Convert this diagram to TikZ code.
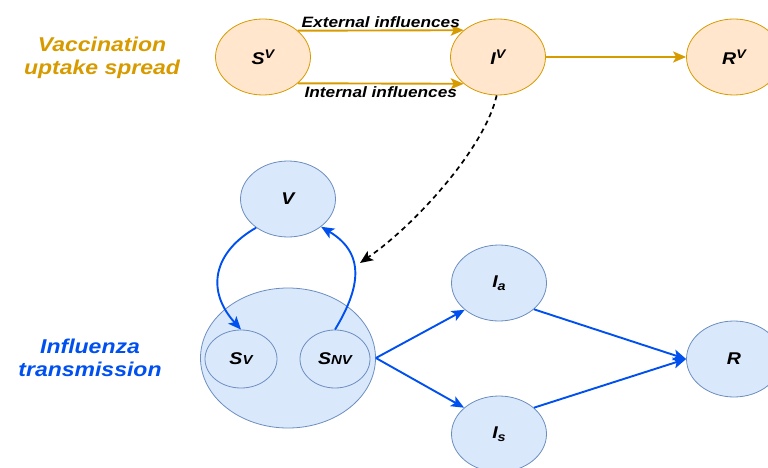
\documentclass[tikz,border=0pt]{standalone}
\usepackage{fontspec}
\setmainfont{Liberation Sans}[FakeStretch=1.15]
\usetikzlibrary{shapes.geometric,arrows.meta}
\definecolor{orfill}{HTML}{FFE6CC}
\definecolor{orstroke}{HTML}{D79B00}
\definecolor{blfill}{HTML}{DAE8FC}
\definecolor{blstroke}{HTML}{6C8EBF}
\definecolor{blline}{HTML}{0050EF}
\newcommand{\smtxt}[1]{{\fontsize{13}{13}\selectfont #1}}
\newcommand{\suptxt}[1]{\raisebox{6pt}{\fontsize{12.5}{12.5}\selectfont #1}}
\newcommand{\subtxt}[1]{\raisebox{-3pt}{\fontsize{12.5}{12.5}\selectfont #1}}
\begin{document}
\begin{tikzpicture}[x=1pt,y=-1pt,
  lab/.style={font=\bfseries\itshape\fontsize{17}{17}\selectfont, text=black},
  ornode/.style={ellipse, draw=orstroke, fill=orfill, line width=0.8pt, minimum width=95pt, minimum height=76pt, inner sep=0pt, lab},
  blnode/.style={ellipse, draw=blstroke, fill=blfill, line width=0.8pt, minimum width=95pt, minimum height=76pt, inner sep=0pt, lab},
  orarrow/.style={draw=orstroke, line width=1.9pt, -{Stealth[length=13pt,width=11pt,inset=3pt]}},
  blarrow/.style={draw=blline, line width=1.9pt, -{Stealth[length=13pt,width=11pt,inset=3pt]}},
  edgelab/.style={font=\bfseries\itshape\fontsize{15}{15}\selectfont, text=black, inner sep=1pt},
  title/.style={font=\bfseries\itshape\fontsize{20}{23}\selectfont, align=center}
]
\useasboundingbox (0,0) rectangle (768,468);

% top row
\node[ornode] (SV) at (263,57) {S\suptxt{V}};
\node[ornode] (IV) at (498,57) {I\suptxt{V}};
\node[ornode] (RV) at (734,57) {R\suptxt{V}};

\draw[orarrow] (SV.37) -- node[edgelab, above=1pt] (ext) {External influences} (IV.142);
\draw[orarrow] (SV.-37) -- node[edgelab, below=1pt] (int) {Internal influences} (IV.-142);
\draw[orarrow] (IV.east) -- (RV.west);

\node[title, text=orstroke] (vt) at (102,58) {Vaccination\\uptake spread};
\node[title, text=blline] (it) at (90,358) {Influenza\\transmission};

% bottom part
\node[blnode] (V) at (288,199) {V};
\node[blnode, minimum width=175pt, minimum height=140pt] (big) at (288,358) {};
\node[blnode, minimum width=72pt, minimum height=58pt] (Sv) at (241,359) {S\smtxt{V}};
\node[blnode, minimum width=70pt, minimum height=58pt] (Snv) at (335,359) {S\smtxt{NV}};
\node[blnode] (Ia) at (499,283) {I\subtxt{a}};
\node[blnode] (Is) at (499,434) {I\subtxt{s}};
\node[blnode] (R) at (734,359) {R};

\draw[blarrow] (V.222) .. controls +(-42,24) and +(-36,-40) .. (Sv.north);
\draw[blarrow] (Snv.north) .. controls +(23,-38) and +(47,28) .. (V.320);

\draw[blarrow] (big.east) -- (Ia.218);
\draw[blarrow] (big.east) -- (Is.143);
\draw[blarrow] (Ia.323) -- (R.west);
\draw[blarrow] (Is.37) -- (R.west);

\coordinate (dashend) at (360,263);
\draw[line width=1.7pt, dash pattern=on 5pt off 4pt, -{Stealth[length=13pt,width=11pt,inset=3pt]}]
  (IV.268) .. controls +(-12,53) and +(55,-38) .. (dashend);
\end{tikzpicture}
\end{document}
